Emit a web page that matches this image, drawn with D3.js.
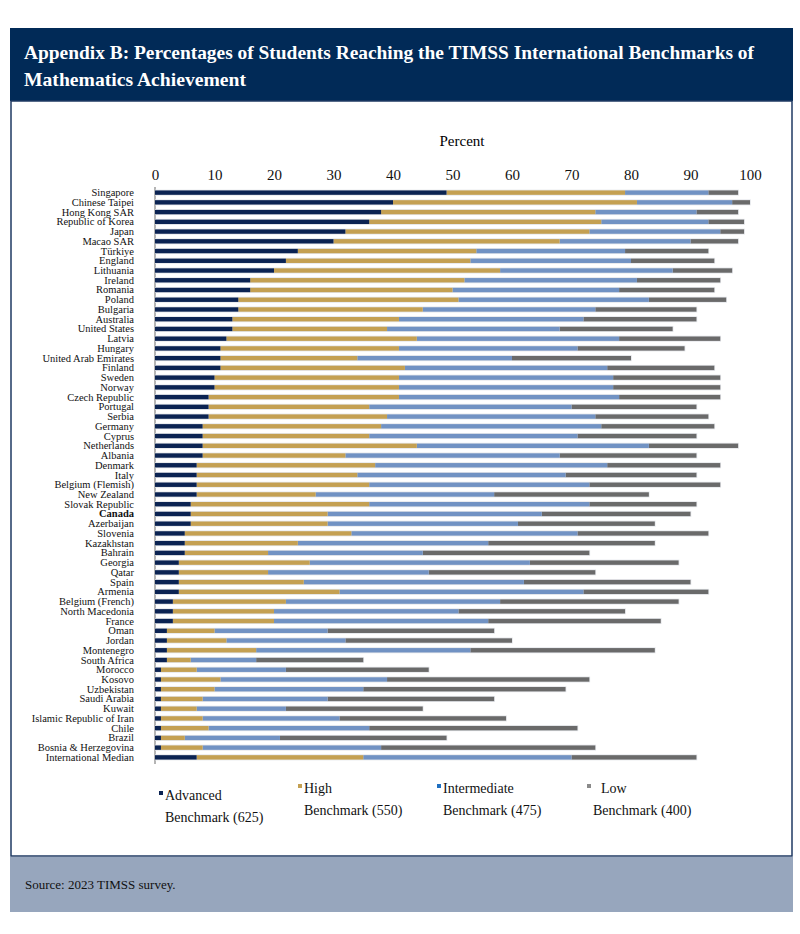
<!DOCTYPE html>
<html><head><meta charset="utf-8">
<script src="https://cdn.jsdelivr.net/npm/d3@7"></script>
<style>body{margin:0;background:#fff}svg{display:block}svg text{font-family:"Liberation Serif","DejaVu Serif",serif}</style>
</head><body><svg id="c" width="800" height="934"></svg>
<script>
const countries=["Singapore","Chinese Taipei","Hong Kong SAR","Republic of Korea","Japan","Macao SAR","Türkiye","England","Lithuania","Ireland","Romania","Poland","Bulgaria","Australia","United States","Latvia","Hungary","United Arab Emirates","Finland","Sweden","Norway","Czech Republic","Portugal","Serbia","Germany","Cyprus","Netherlands","Albania","Denmark","Italy","Belgium (Flemish)","New Zealand","Slovak Republic","Canada","Azerbaijan","Slovenia","Kazakhstan","Bahrain","Georgia","Qatar","Spain","Armenia","Belgium (French)","North Macedonia","France","Oman","Jordan","Montenegro","South Africa","Morocco","Kosovo","Uzbekistan","Saudi Arabia","Kuwait","Islamic Republic of Iran","Chile","Brazil","Bosnia & Herzegovina","International Median"];
const advanced=[49,40,38,36,32,30,24,22,20,16,16,14,14,13,13,12,11,11,11,10,10,9,9,9,8,8,8,8,7,7,7,7,6,6,6,5,5,5,4,4,4,4,3,3,3,2,2,2,2,1,1,1,1,1,1,1,1,1,7];
const high=[79,81,74,75,73,68,54,53,58,52,50,51,45,41,39,44,41,34,42,41,41,41,36,39,38,36,44,32,37,34,36,27,36,29,29,33,24,19,26,19,25,31,22,20,20,10,12,17,6,7,11,10,8,7,8,9,5,8,35];
const intermediate=[93,97,91,93,95,90,79,80,87,81,78,83,74,72,68,78,71,60,76,77,77,78,70,74,75,71,83,68,76,69,73,57,73,65,61,71,56,45,63,46,62,72,58,51,56,29,32,53,17,22,39,35,29,22,31,36,21,38,70];
const low=[98,100,98,99,99,98,93,94,97,95,94,96,91,91,87,95,89,80,94,95,95,95,91,93,94,91,98,91,95,91,95,83,91,90,84,93,84,73,88,74,90,93,88,79,85,57,60,84,35,46,73,69,57,45,59,71,49,74,91];
const ticks=[0,10,20,30,40,50,60,70,80,90,100];
const seriesNames=["Advanced|Benchmark (625)","High|Benchmark (550)","Intermediate|Benchmark (475)","Low|Benchmark (400)"];
const colors=["#0b2352","#c4a052","#7192c3","#6a6a6a"];
const markerColors=["#0b2352","#c4a052","#1f6fc0","#8a8a8a"];

const svg=d3.select("#c");
svg.append("rect").attr("x",10).attr("y",28).attr("width",783).attr("height",73).attr("fill","#012a57");
svg.append("text").attr("x",24).attr("y",59).attr("fill","#fff").attr("font-size",19.5).attr("font-weight","bold").attr("textLength",730).attr("lengthAdjust","spacingAndGlyphs").text("Appendix B: Percentages of Students Reaching the TIMSS International Benchmarks of");
svg.append("text").attr("x",24).attr("y",86).attr("fill","#fff").attr("font-size",19.5).attr("font-weight","bold").attr("textLength",222).attr("lengthAdjust","spacingAndGlyphs").text("Mathematics Achievement");
svg.append("rect").attr("x",11).attr("y",101).attr("width",781).attr("height",755).attr("fill","#fff").attr("stroke","#1f3a63").attr("stroke-width",1.5);
svg.append("rect").attr("x",10).attr("y",857).attr("width",783).attr("height",55).attr("fill","#97a6bd");
svg.append("text").attr("x",25).attr("y",889).attr("font-size",13).attr("fill","#111").text("Source: 2023 TIMSS survey.");

const x=d3.scaleLinear().domain([0,100]).range([155,750]);
const y=d3.scaleBand().domain(countries).range([188,762]).paddingInner(0.55).paddingOuter(0.25);
svg.append("text").attr("x",462).attr("y",146).attr("text-anchor","middle").attr("font-size",15).text("Percent");
const ax=svg.append("g").attr("transform","translate(0,180)").call(d3.axisTop(x).tickValues(ticks).tickSize(0).tickPadding(0));
ax.select(".domain").remove();
ax.attr("font-family",null);
ax.selectAll("text").attr("font-size",15).style("font-family","'Liberation Serif',serif").attr("fill","#111");
svg.append("line").attr("x1",155).attr("x2",155).attr("y1",187).attr("y2",764).attr("stroke","#444").attr("stroke-width",0.8);

const series=[advanced,high,intermediate,low];
const g=svg.append("g");
countries.forEach((c,i)=>{
  g.append("rect").attr("x",x(0)).attr("y",y(c)-0.8).attr("width",x(low[i])-x(0)+0.8).attr("height",y.bandwidth()+1.6).attr("fill","#e4e6ea");
  for(let s=3;s>=0;s--){
    const v0=s===0?0:series[s-1][i];
    g.append("rect").attr("x",x(v0)).attr("y",y(c)).attr("width",x(series[s][i])-x(v0)).attr("height",y.bandwidth()).attr("fill",colors[s]);
  }
  svg.append("text").attr("x",134).attr("y",y(c)+y.bandwidth()/2+3.5).attr("text-anchor","end").attr("font-size",10.5)
    .attr("font-weight",c==="Canada"?"bold":"normal").attr("fill","#111").text(c);
});

const lx=[159,298,437,587], ly=[800,793,793,793];
seriesNames.forEach((n,i)=>{
  const [a,b]=n.split("|");
  svg.append("rect").attr("x",lx[i]).attr("y",ly[i]-9).attr("width",4).attr("height",4).attr("fill",markerColors[i]);
  svg.append("text").attr("x",lx[i]+(i===3?14:6)).attr("y",ly[i]).attr("font-size",14).attr("fill","#111").text(a);
  svg.append("text").attr("x",lx[i]+6).attr("y",ly[i]+22).attr("font-size",14).attr("fill","#111").text(b);
});
</script></body></html>
